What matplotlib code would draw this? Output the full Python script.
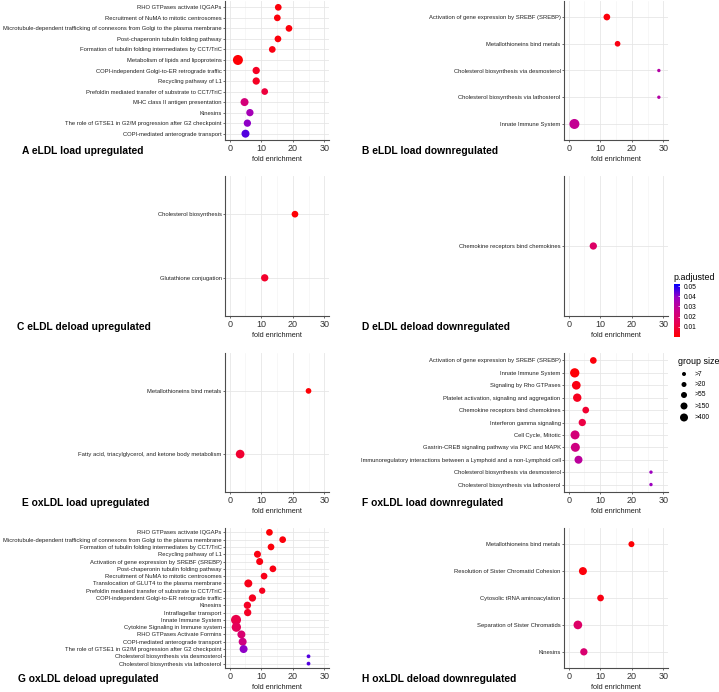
import numpy as np
import matplotlib.pyplot as plt
from matplotlib.colors import LinearSegmentedColormap, Normalize
from matplotlib.cm import ScalarMappable

plt.rcParams['font.family'] = ['Liberation Sans', 'DejaVu Sans']

W, H = 719, 692

# A eLDL load upregulated
terms_a = ['RHO GTPases activate IQGAPs',
           'Recruitment of NuMA to mitotic centrosomes',
           'Microtubule-dependent trafficking of connexons from Golgi to the plasma membrane',
           'Post-chaperonin tubulin folding pathway',
           'Formation of tubulin folding intermediates by CCT/TriC',
           'Metabolism of lipids and lipoproteins',
           'COPI-independent Golgi-to-ER retrograde traffic',
           'Recycling pathway of L1',
           'Prefoldin mediated transfer of substrate to CCT/TriC',
           'MHC class II antigen presentation',
           'Kinesins',
           'The role of GTSE1 in G2/M progression after G2 checkpoint',
           'COPI-mediated anterograde transport']
fold_a = [15.4, 15.1, 18.8, 15.3, 13.5, 2.6, 8.4, 8.4, 11.1, 4.7, 6.4, 5.6, 5.0]
padj_a = [0.002, 0.002, 0.002, 0.002, 0.003, 0.001, 0.006, 0.006, 0.01, 0.022, 0.036, 0.04, 0.045]
size_a = [110, 110, 110, 110, 110, 3000, 200, 200, 110, 400, 200, 200, 400]

# B eLDL load downregulated
terms_b = ['Activation of gene expression by SREBF (SREBP)',
           'Metallothioneins bind metals',
           'Cholesterol biosynthesis via desmosterol',
           'Cholesterol biosynthesis via lathosterol',
           'Innate Immune System']
fold_b = [12.1, 15.5, 28.6, 28.6, 1.8]
padj_b = [0.002, 0.003, 0.032, 0.032, 0.028]
size_b = [110, 40, 4, 4, 3000]

# C eLDL deload upregulated
terms_c = ['Cholesterol biosynthesis', 'Glutathione conjugation']
fold_c = [20.7, 11.1]
padj_c = [0.001, 0.007]
size_c = [110, 200]

# D eLDL deload downregulated
terms_d = ['Chemokine receptors bind chemokines']
fold_d = [7.8]
padj_d = [0.018]
size_d = [200]

# E oxLDL load upregulated
terms_e = ['Metallothioneins bind metals',
           'Fatty acid, triacylglycerol, and ketone body metabolism']
fold_e = [25.0, 3.3]
padj_e = [0.001, 0.008]
size_e = [40, 800]

# F oxLDL load downregulated
terms_f = ['Activation of gene expression by SREBF (SREBP)',
           'Innate Immune System',
           'Signaling by Rho GTPases',
           'Platelet activation, signaling and aggregation',
           'Chemokine receptors bind chemokines',
           'Interferon gamma signaling',
           'Cell Cycle, Mitotic',
           'Gastrin-CREB signaling pathway via PKC and MAPK',
           'Immunoregulatory interactions between a Lymphoid and a non-Lymphoid cell',
           'Cholesterol biosynthesis via desmosterol',
           'Cholesterol biosynthesis via lathosterol']
fold_f = [7.8, 1.9, 2.4, 2.7, 5.4, 4.3, 2.0, 2.1, 3.1, 26.1, 26.1]
padj_f = [0.002, 0.001, 0.003, 0.005, 0.008, 0.011, 0.022, 0.024, 0.03, 0.038, 0.038]
size_f = [110, 1500, 800, 600, 110, 200, 1100, 1100, 400, 4, 4]

# G oxLDL deload upregulated
terms_g = ['RHO GTPases activate IQGAPs',
           'Microtubule-dependent trafficking of connexons from Golgi to the plasma membrane',
           'Formation of tubulin folding intermediates by CCT/TriC',
           'Recycling pathway of L1',
           'Activation of gene expression by SREBF (SREBP)',
           'Post-chaperonin tubulin folding pathway',
           'Recruitment of NuMA to mitotic centrosomes',
           'Translocation of GLUT4 to the plasma membrane',
           'Prefoldin mediated transfer of substrate to CCT/TriC',
           'COPI-independent Golgi-to-ER retrograde traffic',
           'Kinesins',
           'Intraflagellar transport',
           'Innate Immune System',
           'Cytokine Signaling in Immune system',
           'RHO GTPases Activate Formins',
           'COPI-mediated anterograde transport',
           'The role of GTSE1 in G2/M progression after G2 checkpoint',
           'Cholesterol biosynthesis via desmosterol',
           'Cholesterol biosynthesis via lathosterol']
fold_g = [12.6, 16.8, 13.1, 8.8, 9.5, 13.7, 10.9, 5.9, 10.3, 7.2, 5.6, 5.7,
          2.0, 2.1, 3.7, 4.1, 4.4, 25.0, 25.0]
padj_g = [0.001, 0.002, 0.002, 0.003, 0.003, 0.003, 0.004, 0.004, 0.005, 0.005,
          0.006, 0.006, 0.012, 0.015, 0.02, 0.024, 0.04, 0.045, 0.045]
size_g = [110, 110, 110, 150, 150, 110, 110, 400, 75, 200, 200, 200,
          3000, 1500, 400, 400, 400, 6, 6]

# H oxLDL deload downregulated
terms_h = ['Metallothioneins bind metals',
           'Resolution of Sister Chromatid Cohesion',
           'Cytosolic tRNA aminoacylation',
           'Separation of Sister Chromatids',
           'Kinesins']
fold_h = [19.9, 4.5, 10.1, 2.9, 4.8]
padj_h = [0.001, 0.002, 0.003, 0.018, 0.02]
size_h = [55, 400, 110, 800, 200]

size_breaks = np.exp([2, 3, 4, 5, 6])
size_labels = ['>7', '>20', '>55', '>150', '>400']
padj_ticks = [0.01, 0.02, 0.03, 0.04, 0.05]

# red -> blue, interpolated in Lab like ggplot
cmap = LinearSegmentedColormap.from_list(
    'rb', ['#FF0000', '#E80050', '#CA0089', '#9A00C3', '#0000FF'])
norm = Normalize(0, 0.052)


def dot_area(n):
    d_px = 4 + (np.log(np.asarray(n, float)) - 2)
    return (d_px * 0.72) ** 2


panels = [
    ('A eLDL load upregulated', terms_a, fold_a, padj_a, size_a, 0, 0, 22),
    ('B eLDL load downregulated', terms_b, fold_b, padj_b, size_b, 0, 1, 362),
    ('C eLDL deload upregulated', terms_c, fold_c, padj_c, size_c, 1, 0, 17),
    ('D eLDL deload downregulated', terms_d, fold_d, padj_d, size_d, 1, 1, 362),
    ('E oxLDL load upregulated', terms_e, fold_e, padj_e, size_e, 2, 0, 22),
    ('F oxLDL load downregulated', terms_f, fold_f, padj_f, size_f, 2, 1, 362),
    ('G oxLDL deload upregulated', terms_g, fold_g, padj_g, size_g, 3, 0, 18),
    ('H oxLDL deload downregulated', terms_h, fold_h, padj_h, size_h, 3, 1, 362),
]

row_top = [1, 176, 353, 528]
row_bot = [140, 316, 492, 668]
col_l = [225, 564]
col_r = [329, 668]

fig = plt.figure(figsize=(W / 100, H / 100), dpi=100)

for title, terms, fold, padj, size, r, c, tx in panels:
    x0, x1 = col_l[c], col_r[c]
    y0, y1 = row_top[r], row_bot[r]
    ax = fig.add_axes([x0 / W, 1 - y1 / H, (x1 - x0) / W, (y1 - y0) / H])
    n = len(terms)
    ypos = np.arange(n)[::-1]
    ax.scatter(fold, ypos, s=dot_area(size), c=padj, cmap=cmap, norm=norm,
               edgecolors='none', zorder=3)
    ax.set_xlim(-1.5, 31.5)
    ax.set_ylim(-0.6, n - 0.4)
    ax.set_yticks(ypos)
    ax.set_yticklabels(terms)
    ax.set_xticks([0, 10, 20, 30])
    ax.set_xticks([5, 15, 25], minor=True)
    ax.set_axisbelow(True)
    ax.grid(True, which='major', color='#E6E6E6', lw=0.6)
    ax.grid(True, which='minor', axis='x', color='#F2F2F2', lw=0.4)
    for s in ['top', 'right']:
        ax.spines[s].set_visible(False)
    for s in ['left', 'bottom']:
        ax.spines[s].set_color('#4D4D4D')
        ax.spines[s].set_linewidth(0.8)
    ax.tick_params(axis='y', labelsize=4.2, length=1.5, width=0.5,
                   color='#333333', pad=1, labelcolor='#222222')
    ax.tick_params(axis='x', labelsize=6.5, length=1.5, width=0.5,
                   color='#333333', pad=1.2, labelcolor='#333333')
    ax.tick_params(which='minor', length=0)
    ax.set_xlabel('fold enrichment', fontsize=5.3, labelpad=2, color='#222222')
    fig.text(tx / W, 1 - (y1 + 10.5) / H, title, fontsize=7.4,
             fontweight='bold', ha='left', va='center')

# colour legend
fig.text(673 / W, 1 - 277 / H, 'p.adjusted', fontsize=6.4, va='center')
cax = fig.add_axes([674 / W, 1 - 337 / H, 6 / W, 53 / H])
cb = fig.colorbar(ScalarMappable(norm=norm, cmap=cmap), cax=cax, ticks=padj_ticks)
cb.outline.set_visible(False)
cb.set_ticklabels(['%.2f' % t for t in padj_ticks])
cax.tick_params(direction='in', color='white', length=1.5, width=0.5,
                labelsize=4.8, pad=3)

# size legend
fig.text(678 / W, 1 - 362 / H, 'group size', fontsize=6.4, va='center')
lax = fig.add_axes([676 / W, 1 - 426 / H, 43 / W, 58 / H])
lax.set_xlim(676, 719)
lax.set_ylim(426, 368)
lax.axis('off')
key_y = [374, 384.5, 395, 406, 417.5]
lax.scatter([684] * len(size_breaks), key_y, s=dot_area(size_breaks),
            c='black', edgecolors='none', clip_on=False)
for ky, lab in zip(key_y, size_labels):
    lax.text(695, ky, lab, fontsize=4.8, va='center', ha='left')

fig.savefig('out.png', dpi=100)
